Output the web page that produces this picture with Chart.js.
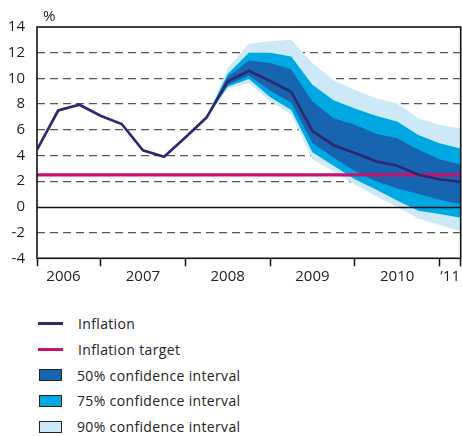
<!DOCTYPE html>
<html>
<head>
<meta charset="utf-8">
<script src="https://cdn.jsdelivr.net/npm/chart.js@4"></script>
<style>
    body { margin: 0; background: #fff; font-family: 'Open Sans', sans-serif; color: #222; }
    #wrap { position: relative; width: 462px; height: 290px; }
    #legend { padding-top: 21px; }
    .legend-row { display: flex; align-items: center; height: 25.7px; font-size: 14px; letter-spacing: 0.35px; }
    .legend-line { width: 25px; height: 3px; margin-left: 38px; margin-right: 15px; }
    .legend-box { width: 21px; height: 10px; margin-left: 39px; margin-right: 15px; border: 1px solid #222; }
</style>
</head>
<body>
<div id="wrap"><canvas id="fanChart"></canvas></div>
<div id="legend"></div>
<script>
// Quarterly inflation, year on year (%), first point in 2006
const inflation = [4.45, 7.5, 7.95, 7.1, 6.45, 4.4, 3.9, 5.4, 6.95, 9.75, 10.6, 9.8, 8.95, 5.9, 4.8, 4.2, 3.55, 3.2, 2.5, 2.15, 1.95];
const inflationTarget = 2.5;

// Forecast fan, starting at quarter index fanStart
const fanStart = 8;
const upper90 = [6.95, 10.8, 12.7, 12.9, 13.0, 11.2, 9.85, 9.1, 8.45, 8.05, 6.9, 6.4, 6.1];
const upper75 = [6.95, 10.35, 12.0, 12.0, 11.7, 9.5, 8.3, 7.65, 7.1, 6.65, 5.6, 4.95, 4.55];
const upper50 = [6.95, 10.1, 11.4, 11.2, 10.7, 8.2, 6.9, 6.4, 5.7, 5.35, 4.45, 3.7, 3.3];
const lower50 = [6.95, 9.5, 10.2, 9.05, 8.1, 4.95, 3.85, 2.8, 2.0, 1.45, 1.0, 0.55, 0.2];
const lower75 = [6.95, 9.35, 9.95, 8.55, 7.55, 4.25, 3.2, 2.15, 1.35, 0.5, -0.3, -0.55, -0.85];
const lower90 = [6.95, 9.2, 9.65, 8.25, 7.2, 3.7, 2.75, 1.75, 0.85, 0.0, -0.9, -1.4, -1.9];

// Year boundaries (tick marks) and year labels, in quarter units
const yearBounds = [0, 3, 7, 11, 15, 19, 20];
const yearLabelPos = [1.25, 5, 9, 13, 17, 19.5];
const yearLabels = ['2006', '2007', '2008', '2009', '2010', '’11'];

const colors = {
    inflation: '#2c2970',
    target: '#c8126d',
    band50: '#1764b0',
    band75: '#00a8e3',
    band90: '#cde9f8',
};

const toPoints = (values, start = 0) => values.map((y, i) => ({ x: start + i, y }));

const bandPair = (label, upper, lower, color, order) => [
    { label, data: toPoints(upper, fanStart), backgroundColor: color, borderColor: 'transparent', borderWidth: 0, pointRadius: 0, fill: '+1', order },
    { label: label + ' lower', data: toPoints(lower, fanStart), borderColor: 'transparent', borderWidth: 0, pointRadius: 0, fill: false, order },
];

const frame = {
    id: 'frame',
    afterDatasetsDraw(chart) {
        const { ctx, chartArea: a, scales } = chart;
        const y0 = Math.round(scales.y.getPixelForValue(0)) + 0.5;
        ctx.save();
        ctx.strokeStyle = '#111';
        ctx.lineWidth = 1.3;
        ctx.beginPath();
        ctx.moveTo(a.left, y0);
        ctx.lineTo(a.right, y0);
        ctx.stroke();
        ctx.lineWidth = 1.6;
        ctx.strokeRect(a.left, a.top, a.right - a.left, a.bottom - a.top);
        ctx.fillStyle = '#222';
        ctx.font = '15px "Open Sans"';
        ctx.textBaseline = 'alphabetic';
        ctx.fillText('%', a.left + 6, a.top - 6);
        ctx.restore();
    },
};

const chart = new Chart(document.getElementById('fanChart'), {
    type: 'line',
    data: {
        datasets: [
            { label: 'Inflation', data: toPoints(inflation), borderColor: colors.inflation, borderWidth: 2.7, pointRadius: 0, tension: 0, fill: false, order: 0 },
            { label: 'Inflation target', data: [{ x: 0, y: inflationTarget }, { x: inflation.length - 1, y: inflationTarget }], borderColor: colors.target, borderWidth: 3.2, pointRadius: 0, fill: false, order: 1 },
            ...bandPair('50% confidence interval', upper50, lower50, colors.band50, 2),
            ...bandPair('75% confidence interval', upper75, lower75, colors.band75, 3),
            ...bandPair('90% confidence interval', upper90, lower90, colors.band90, 4),
        ],
    },
    options: {
        responsive: true,
        maintainAspectRatio: false,
        animation: false,
        layout: { padding: { top: 27, right: 1.3, bottom: 1.7, left: 0 } },
        plugins: { legend: { display: false }, tooltip: { enabled: false } },
        scales: {
            x: {
                type: 'linear',
                min: 0,
                max: inflation.length - 1,
                afterBuildTicks: (scale) => {
                    scale.ticks = [...yearBounds, ...yearLabelPos].sort((a, b) => a - b).map((value) => ({ value }));
                },
                afterFit: (scale) => { scale.height = 30; },
                ticks: {
                    autoSkip: false,
                    maxRotation: 0,
                    padding: 1,
                    color: '#222',
                    font: { family: 'Open Sans', size: 15 },
                    callback: (value) => {
                        const i = yearLabelPos.indexOf(value);
                        return i >= 0 ? yearLabels[i] : '';
                    },
                },
                grid: {
                    drawOnChartArea: false,
                    tickLength: 8,
                    tickWidth: 1.5,
                    tickColor: (ctx) => (yearBounds.includes(ctx.tick?.value) ? '#111' : 'transparent'),
                },
                border: { display: false },
            },
            y: {
                min: -4,
                max: 14,
                afterFit: (scale) => { scale.width = 37; },
                ticks: {
                    stepSize: 2,
                    padding: 12,
                    color: '#222',
                    font: { family: 'Open Sans', size: 15 },
                },
                grid: {
                    drawTicks: false,
                    lineWidth: 1.3,
                    color: (ctx) => ([0, -4, 14].includes(ctx.tick?.value) ? 'transparent' : '#555'),
                },
                border: { display: false, dash: [8, 5] },
            },
        },
    },
    plugins: [frame],
});

// Legend below the chart: lines for the series, boxes for the bands
const legendItems = [
    { label: 'Inflation', color: colors.inflation, kind: 'line' },
    { label: 'Inflation target', color: colors.target, kind: 'line' },
    { label: '50% confidence interval', color: colors.band50, kind: 'box' },
    { label: '75% confidence interval', color: colors.band75, kind: 'box' },
    { label: '90% confidence interval', color: colors.band90, kind: 'box' },
];

const legend = document.getElementById('legend');
legendItems.forEach((item) => {
    const row = document.createElement('div');
    row.className = 'legend-row';
    const symbol = document.createElement('span');
    symbol.className = item.kind === 'line' ? 'legend-line' : 'legend-box';
    symbol.style.background = item.color;
    const text = document.createElement('span');
    text.textContent = item.label;
    row.append(symbol, text);
    legend.appendChild(row);
});
</script>
</body>
</html>
